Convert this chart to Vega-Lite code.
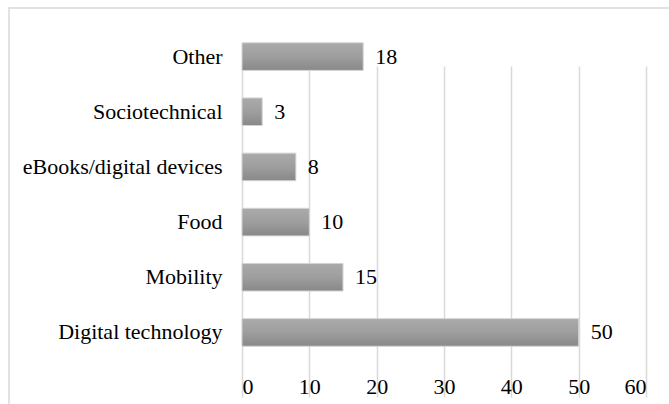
{
  "$schema": "https://vega.github.io/schema/vega-lite/v6.json",
  "autosize": {"type": "none"},
  "padding": {"left": 9, "top": 8, "right": 0, "bottom": 0},
  "width": 690,
  "height": 410,
  "background": "white",
  "config": {
    "view": {"stroke": "#d9d9d9", "strokeWidth": 1.5},
    "font": "Liberation Serif",
    "axis": {"labelFont": "Liberation Serif", "labelFontSize": 22, "labelColor": "#000000", "labelLimit": 400}
  },
  "data": {
    "values": [
      {"category": "Other", "count": 18},
      {"category": "Sociotechnical", "count": 3},
      {"category": "eBooks/digital devices", "count": 8},
      {"category": "Food", "count": 10},
      {"category": "Mobility", "count": 15},
      {"category": "Digital technology", "count": 50}
    ]
  },
  "encoding": {
    "y": {
      "field": "category",
      "type": "nominal",
      "sort": null,
      "title": null,
      "scale": {"range": [21, 352], "paddingInner": 0.5, "paddingOuter": 0.25},
      "axis": {"orient": "left", "offset": -233, "ticks": false, "domain": false, "grid": false, "labelPadding": 20}
    },
    "x": {
      "field": "count",
      "type": "quantitative",
      "title": null,
      "scale": {"domain": [0, 60], "range": [233, 637], "nice": false, "zero": true},
      "axis": {
        "orient": "bottom",
        "offset": -58,
        "values": [0, 10, 20, 30, 40, 50, 60],
        "ticks": false,
        "domain": false,
        "grid": true,
        "gridColor": "#d9d9d9",
        "gridWidth": 1.5,
        "labelPadding": 16
      }
    }
  },
  "layer": [
    {
      "mark": {
        "type": "bar",
        "stroke": "#d4d4d4",
        "strokeWidth": 1,
        "fill": {
          "gradient": "linear",
          "x1": 0, "y1": 0, "x2": 0, "y2": 1,
          "stops": [
            {"offset": 0, "color": "#aaaaaa"},
            {"offset": 0.5, "color": "#9e9e9e"},
            {"offset": 1, "color": "#888888"}
          ]
        }
      }
    },
    {
      "mark": {"type": "text", "align": "left", "baseline": "middle", "dx": 12, "fontSize": 22, "font": "Liberation Serif", "color": "#000000"},
      "encoding": {"text": {"field": "count", "type": "quantitative"}}
    }
  ]
}
